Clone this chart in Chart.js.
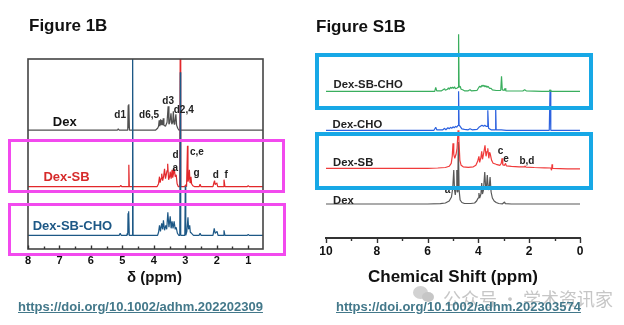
<!DOCTYPE html>
<html>
<head>
<meta charset="utf-8">
<script src="https://cdn.jsdelivr.net/npm/chart.js@4.4.1/dist/chart.umd.min.js"></script>
<style>
body{margin:0;background:#fff;font-family:"Liberation Sans",Arial,sans-serif;}
#wrap{position:relative;width:624px;height:325px;overflow:hidden;background:#fff;}
canvas{position:absolute;top:0;}
.t{position:absolute;white-space:nowrap;font-weight:bold;color:#111;}
.url{font-size:13px;line-height:16px;color:#43788a;text-decoration:underline;}
.box{position:absolute;box-sizing:border-box;}
.pink{border:3.5px solid #f24aee;}
.blue{border:4px solid #17a8e6;}
</style>
</head>
<body>
<div id="wrap">
<canvas id="left" width="312" height="325" style="left:0"></canvas>
<canvas id="right" width="312" height="325" style="left:312px"></canvas>

<div class="t" style="left:29px;top:16px;font-size:17px;line-height:20px">Figure 1B</div>
<div class="t" style="left:316px;top:17px;font-size:17px;line-height:20px">Figure S1B</div>
<div class="t" style="left:100px;width:109px;text-align:center;top:269px;font-size:15px;line-height:15px">δ (ppm)</div>

<div class="box pink" style="left:8px;top:139px;width:277px;height:53.5px"></div>
<div class="box pink" style="left:8px;top:202.5px;width:277.5px;height:53.5px"></div>
<div class="box blue" style="left:315px;top:53px;width:278px;height:57px"></div>
<div class="box blue" style="left:315px;top:132px;width:278px;height:57.5px"></div>

<div style="position:absolute;left:413px;top:286px;width:15px;height:13px;border-radius:50%;background:#d2d2d2"></div>
<div style="position:absolute;left:422px;top:292px;width:12px;height:10px;border-radius:50%;background:#c6c6c6"></div>
<div class="t" style="left:443px;top:289px;font-size:18px;line-height:18px;font-weight:normal;color:rgba(160,160,160,0.6);font-family:'Noto Sans CJK SC',sans-serif">公众号 · 学术资讯家</div>

<div class="t url" style="left:18px;top:298.5px">https://doi.org/10.1002/adhm.202202309</div>
<div class="t url" style="left:336px;top:298.5px">https://doi.org/10.1002/adhm.202303574</div>
</div>

<script>
// ---- Figure 1B (left) : [ppm, intensity] ----
const leftTicks = [8, 7, 6, 5, 4, 3, 2, 1];
const leftMinor = [7.5, 6.5, 5.5, 4.5, 3.5, 2.5, 1.5];

const dexA = [[8,0],[5.16,0],[5.13,1.5],[5.10,0],[4.83,0],[4.815,25],[4.80,2],[4.79,26],[4.775,0],
  [3.95,0],[3.88,2],[3.85,4],[3.83,10],[3.81,4],[3.785,11],[3.765,5],[3.74,10],[3.72,5],[3.70,12],[3.68,5],
  [3.63,4],[3.58,8],[3.545,24],[3.52,6],[3.49,8],[3.455,17],[3.43,6],[3.40,8],[3.38,19],[3.355,6],[3.33,8],
  [3.30,16],[3.275,5],[3.24,2],[3.20,0],[0.53,0]];

const dexSbA = [[8,0],[5.08,0],[5.05,1.5],[5.02,0],[4.81,0],[4.795,22],[4.78,0],
  [3.90,0],[3.85,3],[3.82,10],[3.80,4],[3.77,8],[3.75,13],[3.72,6],[3.69,10],[3.66,18],[3.63,8],[3.58,16],
  [3.56,23],[3.53,7],[3.50,10],[3.48,15],[3.45,8],[3.42,17],[3.40,9],[3.37,14],[3.35,18],[3.32,10],[3.29,12],
  [3.26,3],[3.22,0],[3.175,0],[3.16,160],[3.145,0],[3.02,0],[2.99,2],[2.96,0],[2.93,41],[2.915,5],[2.89,8],
  [2.87,17],[2.85,4],[2.82,10],[2.80,3],[2.76,1],[2.70,0],[2.56,0],[2.53,2.5],[2.50,0],[2.12,0],[2.09,4],
  [2.07,6],[2.05,2],[2.02,3],[2.00,4],[1.97,0],[1.80,0],[1.77,7],[1.74,0],[1.03,0],[1.00,1.2],[0.97,0],[0.53,0]];

const dexSbChoA = [[8,0],[5.10,0],[5.07,2],[5.04,0],[4.86,0],[4.84,2],[4.83,0],[4.82,22],[4.805,2],[4.795,24],[4.78,0],
  [4.69,0],[4.675,220],[4.66,0],
  [3.88,0],[3.85,3],[3.82,10],[3.79,4],[3.75,12],[3.72,6],[3.695,15],[3.66,5],[3.62,10],[3.59,6],[3.555,23],
  [3.52,8],[3.48,19],[3.45,7],[3.42,14],[3.39,7],[3.355,14],[3.32,6],[3.29,8],[3.25,2],[3.21,0],
  [3.175,0],[3.16,163],[3.145,0],[3.015,0],[3.0,49],[2.985,0],[2.95,4],[2.915,18],[2.895,6],[2.86,10],[2.84,3],
  [2.80,2],[2.74,0],[2.56,0],[2.53,2],[2.50,0],[2.12,0],[2.08,7],[2.05,2],[2.02,3],[1.99,4],[1.96,0],
  [1.80,0],[1.77,5],[1.74,0],[1.03,0],[1.00,1],[0.97,0],[0.53,0]];

// ---- Figure S1B (right) : [ppm, intensity] ----
const rightTicks = [10, 8, 6, 4, 2, 0];
const rightMinor = [9, 7, 5, 3, 1];

const dexB = [[10,0],[6,0],[5.5,0.3],[5.3,1],[5.15,3],[5.06,7],[5.01,16],[4.97,34],[4.94,14],[4.91,9],[4.88,16],
  [4.85,34],[4.83,12],[4.81,20],[4.79,62],[4.76,14],[4.72,4],[4.65,1.5],[4.55,0.5],[4.3,0.5],[4.15,1],[4.07,3],
  [4.01,6],[3.98,11],[3.95,6],[3.90,10],[3.87,21],[3.84,10],[3.80,14],[3.75,32],[3.71,14],[3.68,18],[3.65,29],
  [3.61,14],[3.57,18],[3.54,27],[3.50,12],[3.45,6],[3.38,3],[3.30,1.5],[3.2,0.5],[3.05,0.2],[2.97,2],[2.94,0.3],
  [2.7,0],[0,0]];

const dexSbB = [[10,0],[6.0,0],[5.6,0.3],[5.3,0.8],[5.15,2],[5.07,5],[5.03,12],[5.00,25],[4.97,14],[4.93,10],
  [4.88,14],[4.84,20],[4.80,38],[4.77,30],[4.73,8],[4.68,3],[4.6,1.5],[4.4,1],[4.2,1.5],[4.1,3],[4.03,7],
  [3.98,12],[3.95,6],[3.90,11],[3.87,17],[3.84,9],[3.80,14],[3.74,23],[3.70,12],[3.66,17],[3.63,20],[3.59,10],
  [3.56,16],[3.53,14],[3.48,8],[3.42,5],[3.3,4],[3.15,3],[3.10,5],[3.07,10],[3.04,3.5],[2.97,3],[2.93,5],
  [2.90,2.5],[2.7,2],[2.4,1.5],[2.2,1.5],[2.17,2.5],[2.13,1.2],[1.8,0.8],[1.4,0.5],[1.15,0.3],[1.12,-2],
  [1.10,4],[1.08,0],[0.5,-0.5],[0,-0.5]];

const dexChoB = [[10,0],[5.75,0],[5.68,3],[5.64,0.5],[5.40,0.5],[5.33,2],[5.28,0.5],[5.20,2.5],[5.15,1.5],
  [5.10,3],[5.05,2],[5.00,3.5],[4.95,2.5],[4.90,4],[4.85,3],[4.80,5],[4.78,39],[4.76,5],[4.72,4],[4.65,1.5],
  [4.55,1],[4.40,0.5],[4.33,1.5],[4.25,0.5],[4.05,1],[3.98,3],[3.92,4],[3.86,5],[3.80,4],[3.75,5],[3.70,4],
  [3.66,4],[3.63,20],[3.60,2],[3.50,0.5],[3.34,0.5],[3.32,24],[3.30,0.5],[3.1,0.5],[2.9,0],[1.21,0],[1.18,40],
  [1.15,0],[0,0]];

const dexSbChoB = [[10,0],[6.0,0],[5.72,0],[5.68,4],[5.64,0.5],[5.45,0.5],[5.33,2.5],[5.30,1],[5.22,2],[5.18,3.5],
  [5.14,2],[5.10,4],[5.06,3],[5.02,4],[4.98,3],[4.94,4.5],[4.90,2.5],[4.85,3],[4.80,4],[4.78,57],[4.76,4],
  [4.72,5],[4.68,2],[4.62,1.5],[4.55,0.5],[4.40,0.5],[4.33,1.5],[4.28,0.5],[4.05,1],[3.98,4],[3.94,5],[3.90,4],
  [3.86,6],[3.82,5],[3.78,6],[3.74,4.5],[3.70,5.5],[3.66,4],[3.62,5],[3.56,3],[3.50,3],[3.45,1.5],[3.3,0.8],
  [3.12,1],[3.09,15],[3.06,1.5],[2.98,1],[2.95,3],[2.92,0.5],[2.8,0.3],[2.25,0.3],[2.18,1.5],[2.12,0.5],
  [1.5,0],[1.21,0],[1.18,1.5],[1.15,0],[0,0]];

Chart.defaults.font.family = '"Liberation Sans", Arial, sans-serif';

function trace(label, pts, offset, color) {
  return {
    label: label,
    data: pts.map(p => ({x: p[0], y: p[1] + offset})),
    borderColor: color, borderWidth: 1.2, pointRadius: 0, tension: 0,
    fill: false, borderJoinStyle: 'bevel'
  };
}

// frame, tick marks and text labels drawn through the chart's scales
function decor(cfg) {
  return {
    id: 'decor',
    afterDatasetsDraw(chart) {
      const {ctx, chartArea: a, scales: {x, y}} = chart;
      ctx.save();
      if (cfg.frame) {
        ctx.strokeStyle = '#444';
        ctx.lineWidth = 1.6;
        ctx.strokeRect(a.left, a.top, a.right - a.left, a.bottom - a.top);
      }
      ctx.strokeStyle = '#333';
      ctx.lineWidth = 1.4;
      const dir = cfg.inside ? -1 : 1;
      [[cfg.major, cfg.majorLen], [cfg.minor, cfg.minorLen]].forEach(([vals, len]) => {
        vals.forEach(v => {
          const px = Math.round(x.getPixelForValue(v)) + 0.5;
          ctx.beginPath();
          ctx.moveTo(px, a.bottom);
          ctx.lineTo(px, a.bottom + dir * len);
          ctx.stroke();
        });
      });
      ctx.textBaseline = 'middle';
      cfg.notes.forEach(n => {
        ctx.font = 'bold ' + n.size + 'px "Liberation Sans", Arial, sans-serif';
        ctx.fillStyle = n.color || '#222';
        ctx.textAlign = n.align || 'center';
        ctx.fillText(n.text, x.getPixelForValue(n.ppm), y.getPixelForValue(n.y));
      });
      ctx.restore();
    }
  };
}

const leftNotes = [
  {text: 'Dex', ppm: 7.21, y: 127, size: 13, align: 'left', color: '#111'},
  {text: 'Dex-SB', ppm: 7.51, y: 72, size: 13, align: 'left', color: '#d62b2b'},
  {text: 'Dex-SB-CHO', ppm: 7.85, y: 23, size: 13, align: 'left', color: '#1d5886'},
  {text: 'd1', ppm: 5.07, y: 134, size: 10},
  {text: 'd6,5', ppm: 4.15, y: 134, size: 10},
  {text: 'd3', ppm: 3.545, y: 147.5, size: 10},
  {text: 'd2,4', ppm: 3.05, y: 138.5, size: 10},
  {text: 'd', ppm: 3.31, y: 94, size: 10},
  {text: 'c,e', ppm: 2.63, y: 97, size: 10},
  {text: 'a', ppm: 3.32, y: 80.5, size: 10},
  {text: 'g', ppm: 2.645, y: 75.5, size: 10},
  {text: 'd', ppm: 2.03, y: 74, size: 10},
  {text: 'f', ppm: 1.70, y: 74, size: 10}
];

const rightNotes = [
  {text: 'Dex-SB-CHO', ppm: 9.70, y: 153, size: 11.3, align: 'left'},
  {text: 'Dex-CHO', ppm: 9.74, y: 113, size: 11.3, align: 'left'},
  {text: 'Dex-SB', ppm: 9.72, y: 74.7, size: 11.3, align: 'left'},
  {text: 'Dex', ppm: 9.72, y: 37, size: 11.3, align: 'left'},
  {text: 'c', ppm: 3.13, y: 86.3, size: 10},
  {text: 'e', ppm: 2.91, y: 78.7, size: 10},
  {text: 'b,d', ppm: 2.09, y: 77, size: 10},
  {text: 'a', ppm: 5.22, y: 47.3, size: 10}
];

const tickFont = size => ({size: size, weight: 'bold'});

new Chart(document.getElementById('left'), {
  type: 'line',
  data: {
    datasets: [
      trace('Dex-SB-CHO', dexSbChoA, 13.7, '#1d5886'),
      trace('Dex-SB', dexSbA, 62.3, '#e2282b'),
      trace('Dex', dexA, 118.8, '#505050')
    ]
  },
  options: {
    responsive: false, animation: false, devicePixelRatio: 1,
    layout: {padding: {left: 28, right: 49, top: 59, bottom: 0}},
    plugins: {legend: {display: false}, tooltip: {enabled: false}},
    scales: {
      x: {
        type: 'linear', reverse: true, min: 0.53, max: 8,
        afterBuildTicks: ax => { ax.ticks = leftTicks.map(v => ({value: v})); },
        afterFit: ax => { ax.height = 76; },
        grid: {display: false, drawTicks: false, tickLength: 0}, border: {display: false},
        ticks: {color: '#111', padding: 5, maxRotation: 0, autoSkip: false, font: tickFont(11)}
      },
      y: {display: false, min: 0, max: 190}
    }
  },
  plugins: [decor({frame: true, inside: true, major: leftTicks, minor: leftMinor, majorLen: 3.5, minorLen: 2.5, notes: leftNotes})]
});

new Chart(document.getElementById('right'), {
  type: 'line',
  data: {
    datasets: [
      trace('Dex-SB-CHO', dexSbChoB, 146.7, '#3aae5e'),
      trace('Dex-CHO', dexChoB, 107.7, '#2d62df'),
      trace('Dex-SB', dexSbB, 69.7, '#f03b3b'),
      trace('Dex', dexB, 34, '#585858')
    ]
  },
  options: {
    responsive: false, animation: false, devicePixelRatio: 1,
    layout: {padding: {left: 14, right: 44, top: 30, bottom: 0}},
    plugins: {legend: {display: false}, tooltip: {enabled: false}},
    scales: {
      x: {
        type: 'linear', reverse: true, min: 0, max: 10,
        afterBuildTicks: ax => { ax.ticks = rightTicks.map(v => ({value: v})); },
        afterFit: ax => { ax.height = 87; },
        grid: {display: false, drawTicks: false, tickLength: 0},
        border: {display: true, color: '#333', width: 2},
        ticks: {color: '#111', padding: 6, maxRotation: 0, autoSkip: false, font: tickFont(12)},
        title: {display: true, text: 'Chemical Shift (ppm)', color: '#111',
                font: {size: 17, weight: 'bold'}, padding: {top: 0, bottom: 37}}
      },
      y: {display: false, min: 0, max: 208}
    }
  },
  plugins: [decor({frame: false, inside: false, major: rightTicks, minor: rightMinor, majorLen: 5, minorLen: 3, notes: rightNotes})]
});
</script>
</body>
</html>
